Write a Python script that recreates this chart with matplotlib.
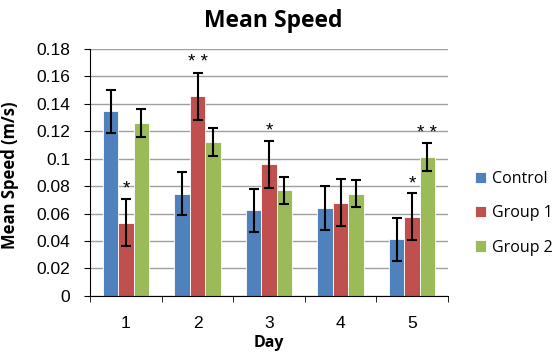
import numpy as np
import matplotlib
matplotlib.use("Agg")
import matplotlib.pyplot as plt

plt.rcParams['font.family'] = ['Lato', 'DejaVu Sans']

# data
days = ['1', '2', '3', '4', '5']
groups = ['Control', 'Group 1', 'Group 2']
control = [0.1345, 0.0745, 0.0625, 0.064, 0.0414]
group1 = [0.0535, 0.1455, 0.0959, 0.0679, 0.0577]
group2 = [0.126, 0.112, 0.0769, 0.0745, 0.1012]
control_err = [0.0158, 0.0157, 0.0156, 0.0158, 0.0156]
group1_err = [0.017, 0.0172, 0.0173, 0.0171, 0.017]
group2_err = [0.010, 0.010, 0.010, 0.010, 0.010]
group1_stars = ['*', '* *', '*', '', '*']
group2_stars = ['', '', '', '', '* *']
yticklabels = ['0', '0.02', '0.04', '0.06', '0.08', '0.1', '0.12',
			   '0.14', '0.16', '0.18']

colors = ['#4F81BD', '#C0504D', '#9BBB59']
arial = ['Liberation Sans', 'DejaVu Sans']
label_font = ['Open Sans', 'DejaVu Sans']

fig = plt.figure(figsize=(5.57, 3.54), dpi=100)
ax = fig.add_axes([0.162, 0.164, 0.642, 0.698])

x = np.arange(len(days))
w = 0.215
series = [control, group1, group2]
errs = [control_err, group1_err, group2_err]
stars = [None, group1_stars, group2_stars]

for i in range(3):
	pos = x + (i - 1) * w
	ax.bar(pos, series[i], w, color=colors[i], edgecolor='white',
		   linewidth=0.6, label=groups[i], zorder=2)
	ax.errorbar(pos, series[i], yerr=errs[i], fmt='none', ecolor='black',
				elinewidth=1.5, capsize=3.3, capthick=1.5, zorder=3)
	if stars[i] is not None:
		for j in range(len(days)):
			if stars[i][j]:
				ax.text(pos[j], series[i][j] + errs[i][j] + 0.001, stars[i][j],
						ha='center', va='bottom', fontsize=13.5, family=arial)

ax.set_ylim(0, 0.18)
ax.set_xlim(-0.5, len(days) - 0.5)
ax.set_yticks(np.arange(0, 0.181, 0.02))
ax.set_yticklabels(yticklabels, fontsize=12.5, family=arial)
ax.set_xticks(x)
ax.set_xticklabels(days, fontsize=12.5, family=arial)
ax.set_xticks(np.arange(-0.5, len(days)), minor=True)
ax.tick_params(axis='x', which='major', length=0, pad=14.5)
ax.tick_params(axis='x', which='minor', length=4.5, color='black')
ax.tick_params(axis='y', length=4.3, color='black', pad=10)

ax.yaxis.grid(True, color='#A0A0A0', linewidth=1)
ax.set_axisbelow(True)
for s in ['top', 'right']:
	ax.spines[s].set_visible(False)
ax.spines['left'].set_color('black')
ax.spines['bottom'].set_color('black')

fig.text(0.491, 1 - 21 / 354, 'Mean Speed', ha='center', va='center',
		 fontsize=16.5, fontweight='bold', family=label_font)
ax.set_ylabel('Mean Speed (m/s)', fontsize=12, fontweight='bold',
			  family=label_font)
ax.yaxis.set_label_coords(-0.2, 0.49)
ax.set_xlabel('Day', fontsize=11.5, fontweight='bold', family=label_font)
ax.xaxis.set_label_coords(0.5, -0.16)

ax.legend(loc='center left', bbox_to_anchor=(1.035, 0.335), frameon=False,
		  prop={'family': label_font, 'size': 11.5}, handlelength=0.7,
		  handleheight=0.7, handletextpad=0.4, labelspacing=1.15)

plt.savefig('out.png', dpi=100)
